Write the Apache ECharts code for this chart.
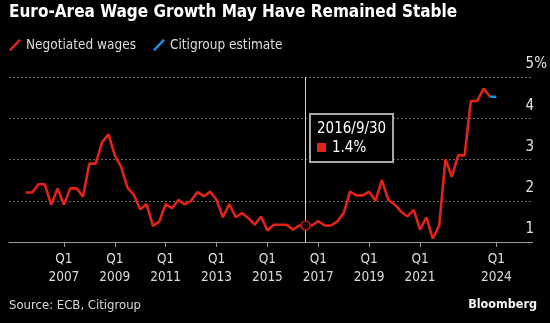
<!DOCTYPE html>
<html>
<head>
<meta charset="utf-8">
<script src="https://cdn.jsdelivr.net/npm/echarts@6/dist/echarts.min.js"></script>
<style>
  html, body { margin: 0; padding: 0; background: #000; }
  #chart { width: 550px; height: 323px; }
</style>
</head>
<body>
<div id="chart"></div>
<script>
// Quarter-end dates for the negotiated wage series (euro area, y/y %)
const quarterEnds = [
  '2005-09-30','2005-12-31',
  '2006-03-31','2006-06-30','2006-09-30','2006-12-31',
  '2007-03-31','2007-06-30','2007-09-30','2007-12-31',
  '2008-03-31','2008-06-30','2008-09-30','2008-12-31',
  '2009-03-31','2009-06-30','2009-09-30','2009-12-31',
  '2010-03-31','2010-06-30','2010-09-30','2010-12-31',
  '2011-03-31','2011-06-30','2011-09-30','2011-12-31',
  '2012-03-31','2012-06-30','2012-09-30','2012-12-31',
  '2013-03-31','2013-06-30','2013-09-30','2013-12-31',
  '2014-03-31','2014-06-30','2014-09-30','2014-12-31',
  '2015-03-31','2015-06-30','2015-09-30','2015-12-31',
  '2016-03-31','2016-06-30','2016-09-30','2016-12-31',
  '2017-03-31','2017-06-30','2017-09-30','2017-12-31',
  '2018-03-31','2018-06-30','2018-09-30','2018-12-31',
  '2019-03-31','2019-06-30','2019-09-30','2019-12-31',
  '2020-03-31','2020-06-30','2020-09-30','2020-12-31',
  '2021-03-31','2021-06-30','2021-09-30','2021-12-31',
  '2022-03-31','2022-06-30','2022-09-30','2022-12-31',
  '2023-03-31','2023-06-30','2023-09-30','2023-12-31'
];

const negotiatedWages = [
  2.2, 2.2,
  2.4, 2.4, 1.9, 2.3,
  1.9, 2.3, 2.3, 2.1,
  2.9, 2.9, 3.42, 3.61,
  3.1, 2.82, 2.31, 2.14,
  1.79, 1.92, 1.39, 1.5,
  1.92, 1.82, 2.02, 1.91,
  2.0, 2.21, 2.11, 2.22,
  2.02, 1.6, 1.92, 1.6,
  1.7, 1.58, 1.42, 1.62,
  1.28, 1.42, 1.42, 1.42,
  1.3, 1.4, 1.4, 1.4,
  1.51, 1.4, 1.4, 1.5,
  1.7, 2.22, 2.13, 2.13,
  2.22, 2.0, 2.5, 2.02,
  1.91, 1.74, 1.62, 1.78,
  1.3, 1.6, 1.08, 1.4,
  3.01, 2.58, 3.1, 3.1,
  4.42, 4.42, 4.72, 4.52
];

// Citigroup estimate, continuing from the last published quarter
const citiDates = ['2023-12-31', '2024-03-31'];
const citiEstimate = [4.52, 4.52];

// Bottom-axis ticks and their labels
const tickDates = ['2007-03-31','2009-03-31','2011-03-31','2013-03-31','2015-03-31',
                   '2017-03-31','2019-03-31','2021-03-31','2024-03-31'];
const tickLabels = ['Q1\n2007','Q1\n2009','Q1\n2011','Q1\n2013','Q1\n2015',
                    'Q1\n2017','Q1\n2019','Q1\n2021','Q1\n2024'];

const xStart = '2005-02-01', xEnd = '2025-09-02';
const yMin = 1, yMax = 5, yStep = 1;
const highlightDate = '2016-09-30';

const RED = '#e2231a';
const BLUE = '#1a8ee0';
const FONT = "'DejaVu Sans Condensed', 'DejaVu Sans', sans-serif";

const stamp = d => +echarts.time.parse(d);
const tickStamps = tickDates.map(stamp);
const highlightIndex = quarterEnds.indexOf(highlightDate);

const chart = echarts.init(document.getElementById('chart'), null, { renderer: 'canvas' });

chart.setOption({
  backgroundColor: '#000',
  animation: false,
  textStyle: { fontFamily: FONT },
  graphic: [
    {
      type: 'text', left: 9, top: 4,
      style: { text: 'Euro-Area Wage Growth May Have Remained Stable', fill: '#fff',
               font: "bold 17px " + FONT }
    },
    {
      type: 'text', left: 9, top: 299,
      style: { text: 'Source: ECB, Citigroup', fill: '#d8d8d8', font: "13px " + FONT }
    },
    {
      type: 'text', right: 13, top: 298,
      style: { text: 'Bloomberg', fill: '#f2f2f2', font: "bold 12.5px " + FONT }
    }
  ],
  legend: {
    left: 9, top: 38, padding: 0,
    itemWidth: 12, itemHeight: 12, itemGap: 17,
    icon: 'path://M10,0 L12,1.6 L2,12 L0,10.4 Z',
    textStyle: { color: '#dcdcdc', fontSize: 13.5, fontFamily: FONT },
    data: [
      { name: 'Negotiated wages', itemStyle: { color: RED, borderWidth: 0 } },
      { name: 'Citigroup estimate', itemStyle: { color: BLUE, borderWidth: 0 } }
    ]
  },
  grid: { left: 9, right: 16, top: 77, bottom: 81 },
  xAxis: {
    type: 'value',
    min: stamp(xStart),
    max: stamp(xEnd),
    splitLine: { show: false },
    axisLine: { show: true, lineStyle: { color: '#9a9a9a', width: 1 } },
    axisTick: {
      show: true, length: 5, customValues: tickStamps,
      lineStyle: { color: '#9a9a9a', width: 1 }
    },
    axisLabel: {
      customValues: tickStamps,
      margin: 9,
      color: '#dcdcdc',
      fontSize: 13.5,
      lineHeight: 17.6,
      fontFamily: FONT,
      formatter: function (v) {
        const i = tickStamps.indexOf(+v);
        return i >= 0 ? tickLabels[i] : '';
      }
    }
  },
  yAxis: {
    type: 'value',
    position: 'right',
    min: yMin, max: yMax, interval: yStep,
    axisLine: { show: false },
    axisTick: { show: false },
    splitLine: { show: true, lineStyle: { color: '#6a6a6a', width: 1, type: [2, 2] } },
    axisLabel: {
      inside: true,
      margin: 7,
      align: 'left',
      verticalAlign: 'bottom',
      padding: [0, 0, 5, 0],
      color: '#e2e2e2',
      fontSize: 15,
      fontFamily: FONT,
      formatter: v => (v === yMax ? v + '%' : String(v))
    }
  },
  tooltip: {
    trigger: 'axis',
    triggerOn: 'none',
    alwaysShowContent: true,
    transitionDuration: 0,
    showDelay: 0,
    backgroundColor: '#000',
    borderColor: '#a8a8a8',
    borderWidth: 2,
    borderRadius: 0,
    padding: [4, 6],
    extraCssText: 'box-shadow:none;',
    axisPointer: {
      type: 'line',
      animation: false,
      label: { show: false },
      lineStyle: { color: '#d4d4d4', width: 1, type: 'solid' }
    },
    position: function (pt) { return [pt[0] + 3, pt[1] - 113]; },
    formatter: function (params) {
      const p = params.find(q => q.seriesName === 'Negotiated wages') || params[0];
      const date = echarts.time.format(p.value[0], '{yyyy}/{M}/{d}', false);
      return '<div style="font-family:' + FONT.replace(/"/g, '') + ';font-size:15px;line-height:19px;color:#fff;white-space:nowrap">' +
        date + '<br>' +
        '<span style="display:inline-block;width:9px;height:9px;background:' + RED +
        ';margin:0 6px 0 0;vertical-align:0px"></span>' + p.value[1] + '%</div>';
    }
  },
  series: [
    {
      name: 'Negotiated wages',
      type: 'line',
      data: quarterEnds.map((d, i) => [stamp(d), negotiatedWages[i]]),
      showSymbol: false,
      symbol: 'none',
      lineStyle: { color: RED, width: 2.6 },
      emphasis: { disabled: true },
      markPoint: {
        symbol: 'circle',
        symbolSize: 9,
        silent: true,
        z: 60,
        label: { show: false },
        itemStyle: { color: '#1a0302', borderColor: '#b8201a', borderWidth: 1.5 },
        data: [{ coord: [stamp(highlightDate), negotiatedWages[highlightIndex]] }]
      },
      z: 2
    },
    {
      name: 'Citigroup estimate',
      type: 'line',
      data: citiDates.map((d, i) => [stamp(d), citiEstimate[i]]),
      showSymbol: false,
      symbol: 'none',
      lineStyle: { color: BLUE, width: 2.6 },
      emphasis: { disabled: true },
      z: 3
    }
  ]
});

chart.dispatchAction({
  type: 'showTip',
  seriesIndex: 0,
  dataIndex: highlightIndex
});
</script>
</body>
</html>
